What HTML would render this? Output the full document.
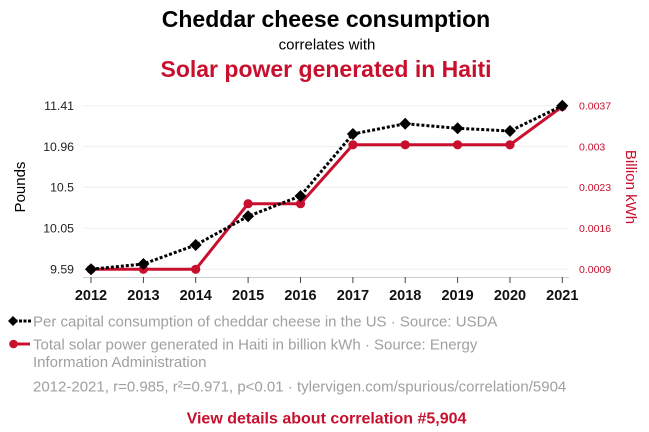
<!DOCTYPE html>
<html><head><meta charset="utf-8"><style>
html,body{margin:0;padding:0;background:#fff;}
svg{display:block;font-family:"Liberation Sans",Arial,sans-serif;}
</style></head><body>
<svg width="649" height="432" viewBox="0 0 649 432" xmlns="http://www.w3.org/2000/svg">
<rect width="649" height="432" fill="#fff"/>
<text x="326" y="27" text-anchor="middle" font-size="23" font-weight="bold" fill="#000">Cheddar cheese consumption</text>
<text x="327" y="49.5" text-anchor="middle" font-size="15" fill="#000">correlates with</text>
<text x="326" y="77" text-anchor="middle" font-size="23" font-weight="bold" fill="#c8102e">Solar power generated in Haiti</text>

<g stroke="#f0f0f0" stroke-width="1.2">
<line x1="83" y1="105.7" x2="569" y2="105.7"/>
<line x1="83" y1="146.5" x2="569" y2="146.5"/>
<line x1="83" y1="187.3" x2="569" y2="187.3"/>
<line x1="83" y1="228.3" x2="569" y2="228.3"/>
<line x1="83" y1="269.3" x2="569" y2="269.3"/>
</g>
<line x1="83" y1="277.5" x2="569" y2="277.5" stroke="#d0d0d0" stroke-width="1"/>
<g stroke="#444" stroke-width="1">
<line x1="91" y1="277" x2="91" y2="283"/>
<line x1="143.4" y1="277" x2="143.4" y2="283"/>
<line x1="195.7" y1="277" x2="195.7" y2="283"/>
<line x1="248.1" y1="277" x2="248.1" y2="283"/>
<line x1="300.5" y1="277" x2="300.5" y2="283"/>
<line x1="352.9" y1="277" x2="352.9" y2="283"/>
<line x1="405.2" y1="277" x2="405.2" y2="283"/>
<line x1="457.6" y1="277" x2="457.6" y2="283"/>
<line x1="510" y1="277" x2="510" y2="283"/>
<line x1="562.3" y1="277" x2="562.3" y2="283"/>
</g>
<g font-size="14.5" font-weight="bold" fill="#111" text-anchor="middle">
<text x="91" y="300">2012</text>
<text x="143.4" y="300">2013</text>
<text x="195.7" y="300">2014</text>
<text x="248.1" y="300">2015</text>
<text x="300.5" y="300">2016</text>
<text x="352.9" y="300">2017</text>
<text x="405.2" y="300">2018</text>
<text x="457.6" y="300">2019</text>
<text x="510" y="300">2020</text>
<text x="562.3" y="300">2021</text>
</g>
<g font-size="12.3" fill="#222" text-anchor="end">
<text x="74" y="110">11.41</text>
<text x="74" y="150.8">10.96</text>
<text x="74" y="191.6">10.5</text>
<text x="74" y="232.6">10.05</text>
<text x="74" y="273.6">9.59</text>
</g>
<g font-size="10.5" fill="#c8102e">
<text x="579" y="109.5">0.0037</text>
<text x="579" y="150.3">0.003</text>
<text x="579" y="191.1">0.0023</text>
<text x="579" y="232.1">0.0016</text>
<text x="579" y="273.1">0.0009</text>
</g>
<text transform="translate(25,187) rotate(-90)" text-anchor="middle" font-size="15" fill="#000">Pounds</text>
<text transform="translate(626,187) rotate(90)" text-anchor="middle" font-size="15" fill="#c8102e">Billion kWh</text>

<!-- solar series -->
<polyline fill="none" stroke="#c8102e" stroke-width="3" stroke-linejoin="round"
 points="91,269.3 143.4,269.3 195.7,269.3 248.1,203.7 300.5,203.7 352.9,144.8 405.2,144.8 457.6,144.8 510,144.8 562.3,106.5"/>
<g fill="#c8102e">
<circle cx="91" cy="269.3" r="4.6"/>
<circle cx="143.4" cy="269.3" r="4.6"/>
<circle cx="195.7" cy="269.3" r="4.6"/>
<circle cx="248.1" cy="203.7" r="4.6"/>
<circle cx="300.5" cy="203.7" r="4.6"/>
<circle cx="352.9" cy="144.8" r="4.6"/>
<circle cx="405.2" cy="144.8" r="4.6"/>
<circle cx="457.6" cy="144.8" r="4.6"/>
<circle cx="510" cy="144.8" r="4.6"/>
<circle cx="562.3" cy="106.5" r="4.6"/>
</g>
<!-- cheddar series -->
<polyline fill="none" stroke="#000" stroke-width="3" stroke-dasharray="3,2"
 points="91,269.3 143.4,264 195.7,245 248.1,216.3 300.5,196 352.9,134 405.2,123.7 457.6,128.3 510,131 562.3,105.7"/>
<g fill="#000">
<path d="M91 263.3 L97 269.3 L91 275.3 L85 269.3Z"/>
<path d="M143.4 258 L149.4 264 L143.4 270 L137.4 264Z"/>
<path d="M195.7 239 L201.7 245 L195.7 251 L189.7 245Z"/>
<path d="M248.1 210.3 L254.1 216.3 L248.1 222.3 L242.1 216.3Z"/>
<path d="M300.5 190 L306.5 196 L300.5 202 L294.5 196Z"/>
<path d="M352.9 128 L358.9 134 L352.9 140 L346.9 134Z"/>
<path d="M405.2 117.7 L411.2 123.7 L405.2 129.7 L399.2 123.7Z"/>
<path d="M457.6 122.3 L463.6 128.3 L457.6 134.3 L451.6 128.3Z"/>
<path d="M510 125 L516 131 L510 137 L504 131Z"/>
<path d="M562.3 99.7 L568.3 105.7 L562.3 111.7 L556.3 105.7Z"/>
</g>

<!-- legend -->
<line x1="10" y1="321" x2="31" y2="321" stroke="#000" stroke-width="3" stroke-dasharray="3,1.5"/>
<path d="M13 316 L18 321 L13 326 L8 321Z" fill="#000"/>
<line x1="10" y1="344" x2="30" y2="344" stroke="#c8102e" stroke-width="3"/>
<circle cx="13.5" cy="344" r="4.3" fill="#c8102e"/>
<g font-size="15" fill="#a0a0a0">
<text x="33" y="326.3">Per capital consumption of cheddar cheese in the US · Source: USDA</text>
<text x="33" y="349.5">Total solar power generated in Haiti in billion kWh · Source: Energy</text>
<text x="33" y="367">Information Administration</text>
<text x="33" y="391.3">2012-2021, r=0.985, r²=0.971, p&lt;0.01 · tylervigen.com/spurious/correlation/5904</text>
</g>
<text x="326.5" y="423.5" text-anchor="middle" font-size="16" font-weight="bold" fill="#c8102e">View details about correlation #5,904</text>
</svg>
</body></html>
